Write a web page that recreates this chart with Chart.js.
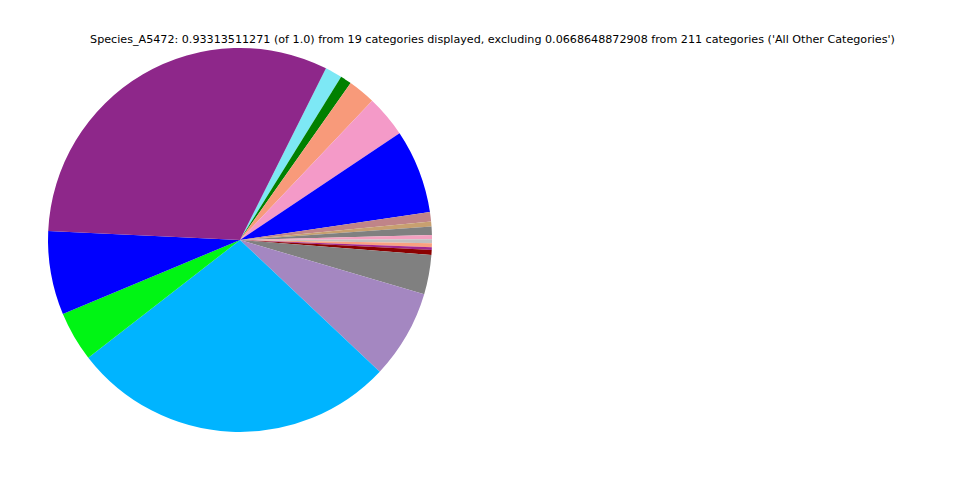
<!DOCTYPE html>
<html>
<head>
<meta charset="utf-8">
<script src="https://cdn.jsdelivr.net/npm/chart.js@4/dist/chart.umd.min.js"></script>
<style>
html,body{margin:0;padding:0;background:#fff;}
#wrap{position:relative;width:960px;height:480px;}
#title{position:absolute;top:33px;left:0;width:985px;text-align:center;font-family:"DejaVu Sans",sans-serif;font-size:11.15px;color:#000;white-space:nowrap;}
canvas{position:absolute;left:0;top:0;}
</style>
</head>
<body>
<div id="wrap">
<div id="title">Species_A5472: 0.93313511271 (of 1.0) from 19 categories displayed, excluding 0.0668648872908 from 211 categories ('All Other Categories')</div>
<canvas id="c" width="960" height="480"></canvas>
</div>
<script>
const categories = ["Category_01","Category_02","Category_03","Category_04","Category_05","Category_06","Category_07","Category_08","Category_09","Category_10","Category_11","Category_12","Category_13","Category_14","Category_15","Category_16","Category_17","Category_18","Category_19"];
const values = [0.01348,0.00881,0.02151,0.03292,0.06584,0.00752,0.00389,0.00648,0.00337,0.00311,0.00311,0.00207,0.00389,0.03085,0.06973,0.25635,0.03914,0.06584,0.29523];
const colors = ["#7de8f5","#008000","#f89a7a","#f49ac8","#0000ff","#c08488","#c8a070","#808080","#f4a0c0","#c0c0c0","#f8a080","#a02890","#8b0000","#808080","#a487c1","#00b4ff","#00f514","#0000ff","#8e278a"];

new Chart(document.getElementById('c'), {
  type: 'pie',
  data: {
    labels: categories,
    datasets: [{
      data: values,
      backgroundColor: colors,
      borderWidth: 0
    }]
  },
  options: {
    responsive: false,
    animation: false,
    rotation: 26.6,
    layout: { padding: { left: 48, top: 48, right: 528, bottom: 48 } },
    plugins: {
      legend: { display: false },
      title: { display: false },
      tooltip: { enabled: false }
    }
  }
});
</script>
</body>
</html>
